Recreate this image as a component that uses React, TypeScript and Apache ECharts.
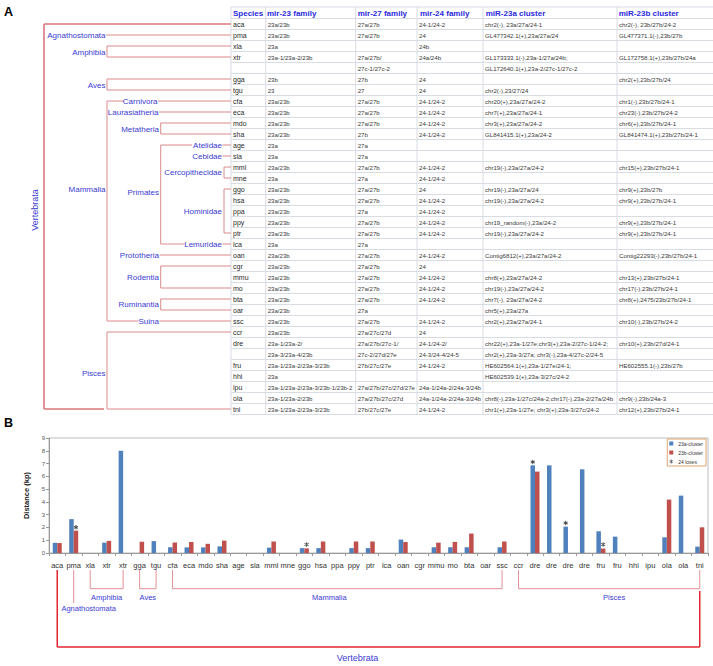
import React, { useEffect, useRef } from "react";
import * as echarts from "echarts";

// ---------------- Panel A : table data ----------------
const tableHeaders = ["Species", "mir-23 family", "mir-27 family", "mir-24 family", "miR-23a cluster", "miR-23b cluster"];
const species = ["aca", "pma", "xla", "xtr", "", "gga", "tgu", "cfa", "eca", "mdo", "sha", "age", "sla", "mml", "mne", "ggo", "hsa", "ppa", "ppy", "ptr", "lca", "oan", "cgr", "mmu", "mo", "bta", "oar", "ssc", "ccr", "dre", "", "fru", "hhi", "ipu", "ola", "tni"];
const mir23 = ["23a/23b", "23a/23b", "23a", "23a-1/23a-2/23b", "", "23b", "23", "23a/23b", "23a/23b", "23a/23b", "23a/23b", "23a", "23a", "23a/23b", "23a", "23a/23b", "23a/23b", "23a/23b", "23a/23b", "23a/23b", "23a", "23a/23b", "23a/23b", "23a/23b", "23a/23b", "23a/23b", "23a/23b", "23a/23b", "23a/23b", "23a-1/23a-2/", "23a-3/23a-4/23b", "23a-1/23a-2/23a-3/23b", "23a", "23a-1/23a-2/23a-3/23b-1/23b-2", "23a-1/23a-2/23b", "23a-1/23a-2/23a-3/23b"];
const mir27 = ["27a/27b", "27a/27b", "", "27a/27b/", "27c-1/27c-2", "27b", "27", "27a/27b", "27a/27b", "27a/27b", "27b", "27a", "27a", "27a/27b", "27a", "27a/27b", "27a/27b", "27a", "27a/27b", "27a/27b", "27a", "27a/27b", "27a/27b", "27a/27b", "27a/27b", "27a/27b", "27a", "27a/27b", "27a/27c/27d", "27a/27b/27c-1/", "27c-2/27d/27e", "27b/27c/27e", "", "27a/27b/27c/27d/27e", "27a/27b/27c/27d", "27b/27c/27e"];
const mir24 = ["24-1/24-2", "24", "24b", "24a/24b", "", "24", "24", "24-1/24-2", "24-1/24-2", "24-1/24-2", "24-1/24-2", "", "", "24-1/24-2", "24-1/24-2", "24", "24-1/24-2", "24-1/24-2", "24-1/24-2", "24-1/24-2", "", "24-1/24-2", "24", "24-1/24-2", "24-1/24-2", "24-1/24-2", "", "24-1/24-2", "24", "24-1/24-2/", "24-3/24-4/24-5", "24-1/24-2", "", "24a-1/24a-2/24a-3/24b", "24a-1/24a-2/24a-3/24b", "24-1/24-2"];
const cluster23a = ["chr2(-), 23a/27a/24-1", "GL477342.1(+),23a/27a/24", "", "GL173333.1(-),23a-1/27a/24b;", "GL172640.1(+),23a-2/27c-1/27c-2", "", "chr2(-),23/27/24", "chr20(+),23a/27a/24-2", "chr7(+),23a/27a/24-1", "chr3(+),23a/27a/24-2", "GL841415.1(+),23a/24-2", "", "", "chr19(-),23a/27a/24-2", "", "chr19(-),23a/27a/24", "chr19(-),23a/27a/24-2", "", "chr19_random(-),23a/24-2", "chr19(-),23a/27a/24-2", "", "Contig6812(+),23a/27a/24-2", "", "chr8(+),23a/27a/24-2", "chr19(-),23a/27a/24-2", "chr7(-), 23a/27a/24-2", "chr5(+),23a/27a", "chr2(+),23a/27a/24-1", "", "chr22(+),23a-1/27e;chr3(+),23a-2/27c-1/24-2;", "chr2(+),23a-3/27a; chr3(-),23a-4/27c-2/24-5", "HE602564.1(+),23a-1/27e/24-1;", "HE602539.1(+),23a-3/27c/24-2", "", "chr8(-),23a-1/27c/24a-2;chr17(-),23a-2/27a/24b", "chr1(+),23a-1/27e; chr3(+),23a-3/27c/24-2"];
const cluster23b = ["chr2(-), 23b/27b/24-2", "GL477371.1(-),23b/27b", "", "GL172758.1(+),23b/27b/24a", "", "chr2(+),23b/27b/24", "", "chr1(-),23b/27b/24-1", "chr23(-),23b/27b/24-2", "chr6(+),23b/27b/24-1", "GL841474.1(+),23b/27b/24-1", "", "", "chr15(+),23b/27b/24-1", "", "chr9(+),23b/27b", "chr9(+),23b/27b/24-1", "", "chr9(+),23b/27b/24-1", "chr9(+),23b/27b/24-1", "", "Contig22293(-),23b/27b/24-1", "", "chr13(+),23b/27b/24-1", "chr17(-),23b/27b/24-1", "chr8(+),2475/23b/27b/24-1", "", "chr10(-),23b/27b/24-2", "", "chr10(+),23b/27d/24-1", "", "HE602555.1(-),23b/27b", "", "", "chr9(-),23b/24a-3", "chr12(+),23b/27b/24-1"];

// ---------------- Panel B : bar data ----------------
const barCategories = ["aca", "pma", "xla", "xtr", "xtr", "gga", "tgu", "cfa", "eca", "mdo", "sha", "age", "sla", "mml", "mne", "ggo", "hsa", "ppa", "ppy", "ptr", "lca", "oan", "cgr", "mmu", "mo", "bta", "oar", "ssc", "ccr", "dre", "dre", "dre", "dre", "fru", "fru", "hhi", "ipu", "ola", "ola", "tni"];
const distance23a = [0.8, 2.65, null, 0.81, 8.0, null, 0.93, 0.45, 0.44, 0.44, 0.52, null, null, 0.42, null, 0.38, 0.38, null, 0.38, 0.38, null, 1.05, null, 0.45, 0.45, 0.45, null, 0.45, null, 6.86, 6.86, 2.06, 6.55, 1.7, 1.28, null, null, 1.23, 4.49, 0.5];
const distance23b = [0.78, 1.75, null, 0.95, null, 0.88, null, 0.82, 0.86, 0.72, 0.97, null, null, 0.9, null, 0.36, 0.9, null, 0.9, 0.9, null, 0.86, null, 0.81, 0.87, 1.52, null, 0.9, null, 6.37, null, null, null, 0.35, null, null, null, 4.18, null, 2.01];
const lossCategoryIndex = [1, 15, 29, 31, 33];
const lossOnCluster = ["23b", "23b", "23a", "23a", "23b"];
const lossValues = [2.02, 0.66, 7.12, 2.35, 0.66];
const seriesNames = ["23a-cluster", "23b-cluster", "24 loses"];

const bottomGroups = [
  { name: "Agnathostomata", first: 1, last: 1 },
  { name: "Amphibia", first: 2, last: 4 },
  { name: "Aves", first: 5, last: 6 },
  { name: "Mammalia", first: 7, last: 27 },
  { name: "Pisces", first: 28, last: 39 },
];
const rootGroup = { name: "Vertebrata", first: 0, last: 39 };

// ---------------- styles ----------------
const FONT = "'Liberation Sans', Arial, Helvetica, sans-serif";
const BLUE_BAR = "#4F81BD";
const RED_BAR = "#C0504D";
const TREE = "#DB8A8D";
const TREE_DARK = "#D9787C";
const LABEL = "#3B3BD4";
const HEADER = "#2A2ADB";
const GRID = "#D9DCE3";
const STAR =
  "path://M-1,-5L1,-5L1,5L-1,5Z M-4.83,-1.63L-3.83,-3.37L4.83,1.63L3.83,3.37Z M-3.83,3.37L-4.83,1.63L3.83,-3.37L4.83,-1.63Z";

const rowY = (i: number) => 24 + 11 * i;

function txt(text: string, x: number, y: number, o: any = {}) {
  return {
    type: "text",
    x,
    y,
    rotation: o.rot || 0,
    silent: true,
    style: {
      text,
      fill: o.fill || "#333",
      fontSize: o.size || 6.1,
      fontFamily: FONT,
      fontWeight: o.weight || "normal",
      textAlign: o.align || "left",
      textVerticalAlign: "middle",
    },
  };
}
function ln(x1: number, y1: number, x2: number, y2: number, stroke = TREE, w = 1) {
  return { type: "line", silent: true, shape: { x1, y1, x2, y2 }, style: { stroke, lineWidth: w } };
}

function buildTable(): any[] {
  const els: any[] = [];
  const colX = [231, 265.7, 355.7, 417, 483, 617];
  const headX = [233, 267, 357.7, 420, 485.7, 618.7];
  const nRows = species.length;
  const top = 7;
  const bottom = rowY(nRows - 1) + 5.5;
  els.push(ln(231, top, 713, top, GRID));
  for (let k = 0; k <= nRows; k++) {
    const y = rowY(k) - 5.5;
    els.push(ln(231, y, 713, y, GRID));
  }
  colX.forEach((x) => els.push(ln(x, top, x, bottom, GRID)));
  tableHeaders.forEach((h, c) =>
    els.push(txt(h, headX[c], 13, { fill: HEADER, weight: "bold", size: c === 0 ? 8 : 8 }))
  );
  const cols = [species, mir23, mir27, mir24, cluster23a, cluster23b];
  cols.forEach((col, c) => {
    col.forEach((v, i) => {
      if (!v) return;
      els.push(txt(v, colX[c] + 2, rowY(i), { size: c === 0 ? 7 : 6.1, fill: c === 0 ? "#2a2a2a" : "#3a3a3a" }));
    });
  });
  return els;
}

function buildTree(): any[] {
  const e: any[] = [];
  const T = 231;
  const xV = 44, x1 = 107, x2 = 160.7, x3 = 224;
  const lab = (t: string, xr: number, y: number) => e.push(txt(t, xr, y, { fill: LABEL, size: 8, align: "right" }));
  const bracket = (x: number, a: number, b: number) => {
    e.push(ln(x, rowY(a), x, rowY(b)));
    e.push(ln(x, rowY(a), T, rowY(a)));
    e.push(ln(x, rowY(b), T, rowY(b)));
  };
  e.push(ln(xV, rowY(0), xV, rowY(35), TREE_DARK, 1.6));
  e.push(ln(xV, rowY(0), T, rowY(0), TREE_DARK, 1.6));
  e.push(ln(xV, rowY(35), 104, rowY(35), TREE_DARK, 1.6));
  e.push(txt("Vertebrata", 35, 210, { fill: LABEL, size: 9, align: "center", rot: Math.PI / 2 }));
  lab("Agnathostomata", 105.5, rowY(1));
  e.push(ln(106, rowY(1), T, rowY(1)));
  lab("Amphibia", 105.5, (rowY(2) + rowY(3)) / 2 + 1);
  bracket(x1, 2, 3);
  lab("Aves", 105.5, (rowY(5) + rowY(6)) / 2 + 1);
  bracket(x1, 5, 6);
  lab("Mammalia", 105.5, 189);
  e.push(ln(x1, rowY(7), x1, rowY(27)));
  e.push(ln(x1, rowY(7), 124, rowY(7)));
  lab("Carnivora", 157.5, rowY(7));
  e.push(ln(158, rowY(7), T, rowY(7)));
  lab("Laurasiatheria", 158.5, rowY(8));
  e.push(ln(159, rowY(8), T, rowY(8)));
  lab("Metatheria", 159, (rowY(9) + rowY(10)) / 2 + 1);
  bracket(x2, 9, 10);
  lab("Primates", 159, 192);
  e.push(ln(x2, rowY(11), x2, rowY(20)));
  e.push(ln(x2, rowY(11), 192, rowY(11)));
  lab("Atelidae", 222, rowY(11));
  e.push(ln(222.5, rowY(11), T, rowY(11)));
  lab("Cebidae", 222, rowY(12));
  e.push(ln(222.5, rowY(12), T, rowY(12)));
  lab("Cercopithecidae", 222, (rowY(13) + rowY(14)) / 2);
  bracket(x3, 13, 14);
  lab("Hominidae", 222, rowY(17));
  bracket(x3, 15, 19);
  e.push(ln(x2, rowY(20), 184.5, rowY(20)));
  lab("Lemuridae", 222, rowY(20));
  e.push(ln(222.5, rowY(20), T, rowY(20)));
  lab("Prototheria", 159, rowY(21));
  e.push(ln(159.5, rowY(21), T, rowY(21)));
  lab("Rodentia", 159, (rowY(22) + rowY(24)) / 2);
  bracket(x2, 22, 24);
  lab("Ruminantia", 159, (rowY(25) + rowY(26)) / 2);
  bracket(x2, 25, 26);
  e.push(ln(x1, rowY(27), 138.5, rowY(27)));
  lab("Suina", 159, rowY(27));
  e.push(ln(159.5, rowY(27), T, rowY(27)));
  lab("Pisces", 105.5, 373);
  bracket(x1, 28, 35);
  return e;
}

function buildBottom(catX: (i: number) => number): any[] {
  const e: any[] = [];
  const yTop = 570, yBr = 588.7, yLab = 597;
  const PINK = "#E39095";
  bottomGroups.forEach((g) => {
    const a = catX(g.first), b = catX(g.last);
    if (g.first === g.last) {
      e.push(ln(a, yTop, a, 603, PINK));
      e.push(txt(g.name, a + 15, 608, { fill: LABEL, size: 7.5, align: "center" }));
    } else {
      e.push(ln(a, yTop, a, yBr, PINK));
      e.push(ln(b, yTop, b, yBr, PINK));
      e.push(ln(a, yBr, b, yBr, PINK));
      const cx = g.name === "Mammalia" ? (a + b) / 2 - 8 : (a + b) / 2 + (g.name === "Pisces" ? 5 : 0);
      e.push(txt(g.name, cx, yLab, { fill: LABEL, size: 7.5, align: "center" }));
    }
  });
  const a = catX(rootGroup.first), b = catX(rootGroup.last);
  const RED = "#E2262F";
  e.push(ln(a, yTop, a, 647, RED, 1.5));
  e.push(ln(a, 647, b, 647, RED, 1.5));
  e.push(ln(b, 591, b, 647, RED, 1.5));
  e.push(txt(rootGroup.name, (a + b) / 2 - 21, 658, { fill: LABEL, size: 9, align: "center" }));
  return e;
}

const baseOption: any = {
  animation: false,
  backgroundColor: "#fff",
  textStyle: { fontFamily: FONT },
  grid: {
    left: 49,
    right: 5,
    top: 438,
    bottom: 113,
    show: true,
    borderColor: "#BDBDBD",
    borderWidth: 1,
    containLabel: false,
    outerBoundsMode: "none",
  },
  legend: {
    orient: "vertical",
    align: "left",
    right: 7,
    top: 439,
    itemWidth: 4,
    itemHeight: 4,
    itemGap: 4,
    padding: [2, 3, 2, 2],
    borderColor: "#DFA673",
    borderWidth: 1,
    backgroundColor: "#fff",
    textStyle: { fontSize: 5, color: "#333", fontFamily: FONT },
    data: [
      { name: seriesNames[0], icon: "rect" },
      { name: seriesNames[1], icon: "rect" },
      { name: seriesNames[2] },
    ],
  },
  xAxis: {
    type: "category",
    data: barCategories,
    axisLine: { lineStyle: { color: "#9a9a9a" } },
    axisTick: { show: true, alignWithLabel: false, interval: 0, length: 3, lineStyle: { color: "#9a9a9a" } },
    axisLabel: { interval: 0, fontSize: 7.5, color: "#333", margin: 8, fontFamily: FONT },
    splitLine: { show: false },
  },
  yAxis: {
    type: "value",
    min: 0,
    max: 9,
    interval: 1,
    name: "Distance (kp)",
    nameLocation: "middle",
    nameGap: 18,
    nameTextStyle: { fontSize: 7.5, fontWeight: "bold", color: "#222", fontFamily: FONT },
    axisLine: { show: true, lineStyle: { color: "#9a9a9a" } },
    axisTick: { show: true, length: 3, lineStyle: { color: "#9a9a9a" } },
    axisLabel: { fontSize: 6, color: "#555", margin: 4, fontFamily: FONT },
    splitLine: { show: false },
  },
  series: [
    {
      name: seriesNames[0],
      type: "bar",
      data: distance23a,
      barWidth: 4.5,
      barGap: "0%",
      itemStyle: { color: BLUE_BAR },
    },
    {
      name: seriesNames[1],
      type: "bar",
      data: distance23b,
      barWidth: 4.5,
      barGap: "0%",
      itemStyle: { color: RED_BAR },
    },
    {
      name: seriesNames[2],
      type: "scatter",
      symbol: STAR,
      symbolSize: 4.5,
      itemStyle: { color: "#1a1a1a" },
      z: 5,
      data: lossCategoryIndex.map((idx, k) => ({
        value: [idx, lossValues[k]],
        symbolOffset: [lossOnCluster[k] === "23a" ? -2.25 : 2.25, 0],
      })),
    },
  ],
};

export default function App() {
  const ref = useRef<HTMLDivElement>(null);
  useEffect(() => {
    document.body.style.margin = "0";
    const el = ref.current as HTMLDivElement;
    const chart = echarts.init(el, null, { renderer: "svg" });
    chart.setOption(baseOption);
    const catX = (i: number) => chart.convertToPixel({ xAxisIndex: 0 }, i) as number;
    const graphics = [
      txt("A", 4, 12, { fill: "#000", size: 12.5, weight: "bold" }),
      txt("B", 4, 423, { fill: "#000", size: 12.5, weight: "bold" }),
      ...buildTable(),
      ...buildTree(),
      ...buildBottom(catX),
    ];
    chart.setOption({ graphic: { elements: graphics } });
    return () => chart.dispose();
  }, []);
  return <div ref={ref} style={{ width: 713, height: 666 }} />;
}
